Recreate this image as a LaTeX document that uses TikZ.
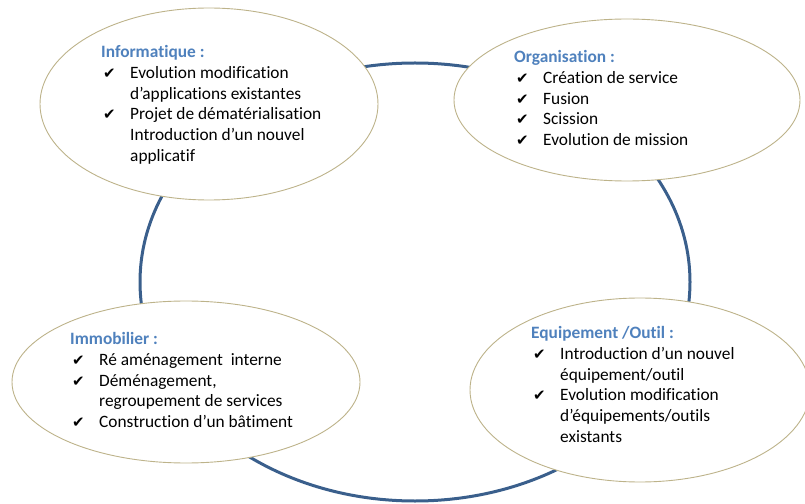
\documentclass[tikz,border=0pt]{standalone}
\usepackage{fontspec}
\setmainfont{Carlito}[Ligatures=NoCommon]
\newfontfamily\symfont{DejaVu Sans}
\definecolor{headblue}{HTML}{4F81BD}
\definecolor{ringblue}{HTML}{3A5F8C}
\definecolor{tanline}{HTML}{BDB38A}
\newcommand{\chk}{\hspace*{2bp}\makebox[27bp][l]{\symfont\fontsize{15}{21}\selectfont ✔}}
\newcommand{\cont}{\hspace*{29bp}}
\newcommand{\head}[1]{\rule{0pt}{14bp}\textcolor{headblue}{\bfseries #1}}
\begin{document}
\begin{tikzpicture}[x=1bp,y=-1bp,
  bubble/.style={draw=tanline, line width=0.9bp, fill=white},
  txt/.style={anchor=north west, inner sep=0pt, align=left, font=\fontsize{17.4}{21}\selectfont}]
\useasboundingbox (0,0) rectangle (805,504);
\draw[ringblue, line width=3bp] (415,282) ellipse [x radius=275, y radius=219];
\draw[bubble] (209,104) ellipse [x radius=169, y radius=96];
\draw[bubble] (627,100) ellipse [x radius=173, y radius=81];
\draw[bubble] (186,382) ellipse [x radius=174, y radius=81];
\draw[bubble] (640,390) ellipse [x radius=170, y radius=92];
\node[txt] (info) at (101,43) {\head{Informatique :}\\
\chk Evolution modification\\
\cont d’applications existantes\\
\chk Projet de dématérialisation\\
\cont Introduction d’un nouvel\\
\cont applicatif};
\node[txt] (orga) at (514,48) {\head{Organisation :}\\
\chk Création de service\\
\chk Fusion\\
\chk Scission\\
\chk Evolution de mission};
\node[txt] (immo) at (70,330) {\head{Immobilier :}\\
\chk Ré aménagement\ \ interne\\
\chk Déménagement,\\
\cont regroupement de services\\
\chk Construction d’un bâtiment};
\node[txt] (equip) at (531,324) {\head{Equipement /Outil :}\\
\chk Introduction d’un nouvel\\
\cont équipement/outil\\
\chk Evolution modification\\
\cont d’équipements/outils\\
\cont existants};
\end{tikzpicture}
\end{document}
